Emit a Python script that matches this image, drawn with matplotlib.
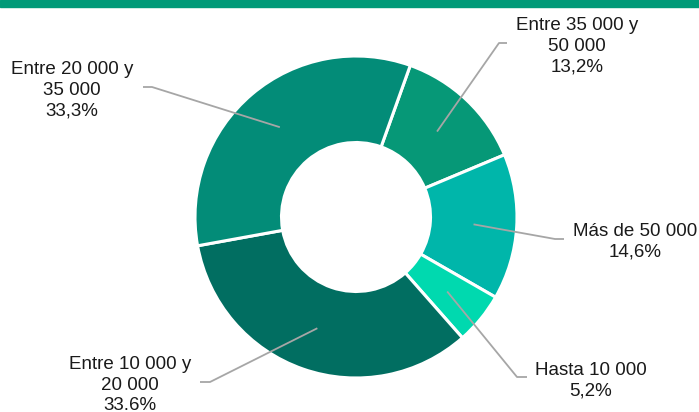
import numpy as np
import matplotlib
matplotlib.use("Agg")
import matplotlib.pyplot as plt
from matplotlib.patches import Rectangle

# Data (order clockwise starting near the top)
categories = ["Entre 35 000 y\n50 000", "Más de 50 000", "Hasta 10 000",
              "Entre 10 000 y\n20 000", "Entre 20 000 y\n35 000"]
values = [13.2, 14.6, 5.2, 33.6, 33.3]
value_labels = ["13,2%", "14,6%", "5,2%", "33.6%", "33,3%"]
colors = ["#069877", "#00B6AA", "#00D9AF", "#016E61", "#038C78"]

W, H = 699, 412
fig = plt.figure(figsize=(W / 100, H / 100), dpi=100)
ax = fig.add_axes([0, 0, 1, 1])

cx, cy = 356, 195
r_out, r_in = 161, 74.5

wedges, _ = ax.pie(values, colors=colors, startangle=70.3, counterclock=False,
                   center=(cx, cy), radius=r_out,
                   wedgeprops=dict(width=r_out - r_in, edgecolor="white", linewidth=2.2))
ax.set_xlim(0, W)
ax.set_ylim(0, H)
ax.set_aspect("equal")
ax.axis("off")

# top band
ax.add_patch(Rectangle((0, H - 7), W, 7, color="#009A78", clip_on=False))

# label layout (pixel coords, y up): elbow, end, text center x, text center y
layout = [
    ((499, H - 43), (507, H - 43), 577, H - 46),
    ((555, H - 239), (564, H - 239), 635, H - 242),
    ((517, H - 377), (527, H - 377), 591, H - 381),
    ((210, H - 382), (200, H - 382), 130, H - 385),
    ((152, H - 87), (143, H - 87), 72, H - 90),
]
r_mid = (r_out + r_in) / 2
for w, cat, vl, (elbow, end, tx, ty) in zip(wedges, categories, value_labels, layout):
    ang = np.deg2rad((w.theta1 + w.theta2) / 2)
    sx, sy = cx + r_mid * np.cos(ang), cy + r_mid * np.sin(ang)
    ax.plot([sx, elbow[0], end[0]], [sy, elbow[1], end[1]], color="#A6A6A6", lw=1.3,
            solid_capstyle="butt")
    ax.text(tx, ty, cat + "\n" + vl, ha="center", va="center", fontsize=13.5,
            family="Liberation Sans", color="#1A1A1A", linespacing=1.28)

fig.savefig("out.png", dpi=100)
